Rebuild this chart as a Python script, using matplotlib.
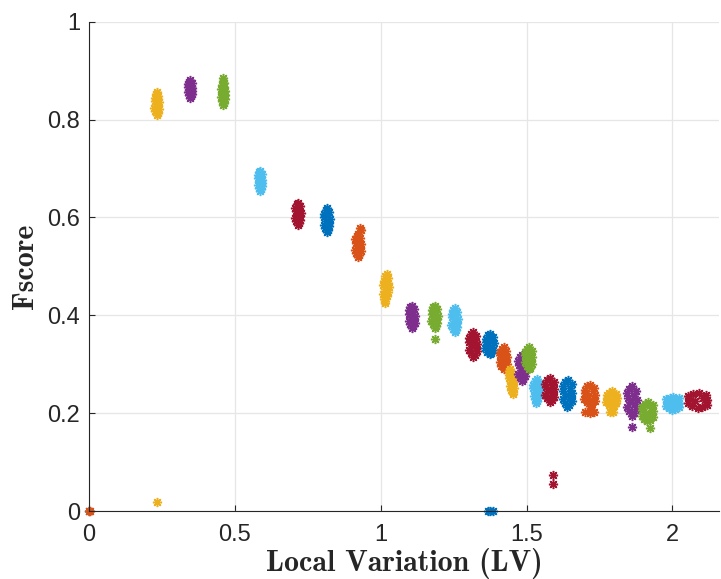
import os
import matplotlib
matplotlib.use("Agg")
import matplotlib.pyplot as plt
from matplotlib.font_manager import FontProperties

# MATLAB default colour order
colors = ["#0072BD", "#D95319", "#EDB120", "#7E2F8E", "#77AC30", "#4DBEEE", "#A2142F"]

# one list per run: local variation (x) and Fscore (y)
lv = [
    [0.0],
    [0.0, 0.002],
    [0.232, 0.235, 0.228, 0.239, 0.224, 0.238, 0.230, 0.240, 0.226, 0.236, 0.225, 0.238, 0.229, 0.233, 0.233],
    [0.346, 0.349, 0.342, 0.353, 0.338, 0.352, 0.344, 0.354, 0.340, 0.350, 0.339, 0.352, 0.343, 0.347],
    [0.459, 0.462, 0.455, 0.466, 0.451, 0.465, 0.457, 0.467, 0.453, 0.463, 0.456, 0.462, 0.458, 0.460],
    [0.586, 0.589, 0.582, 0.593, 0.578, 0.592, 0.584, 0.594, 0.580, 0.590, 0.579, 0.592, 0.583, 0.587],
    [0.716, 0.720, 0.711, 0.725, 0.706, 0.723, 0.713, 0.726, 0.708, 0.721, 0.707, 0.724, 0.712, 0.717],
    [0.815, 0.819, 0.810, 0.824, 0.805, 0.822, 0.812, 0.825, 0.807, 0.820, 0.806, 0.823, 0.811, 0.816],
    [0.922, 0.926, 0.917, 0.931, 0.912, 0.929, 0.919, 0.932, 0.914, 0.927, 0.913, 0.930, 0.918, 0.923, 0.928, 0.933],
    [1.013, 1.016, 1.010, 1.022, 1.008, 1.025, 1.015, 1.027, 1.009, 1.024, 1.011, 1.026, 1.016, 1.020],
    [1.107, 1.111, 1.101, 1.116, 1.096, 1.114, 1.104, 1.118, 1.098, 1.112, 1.097, 1.115, 1.102, 1.108],
    [1.185, 1.189, 1.179, 1.194, 1.174, 1.192, 1.182, 1.196, 1.176, 1.190, 1.175, 1.193, 1.180, 1.186, 1.186],
    [1.253, 1.257, 1.247, 1.262, 1.242, 1.260, 1.250, 1.264, 1.244, 1.258, 1.243, 1.261, 1.248, 1.254],
    [1.316, 1.322, 1.309, 1.329, 1.302, 1.326, 1.312, 1.330, 1.304, 1.323, 1.303, 1.328, 1.310, 1.318],
    [1.373, 1.379, 1.366, 1.386, 1.359, 1.383, 1.369, 1.387, 1.361, 1.380, 1.360, 1.385, 1.367, 1.375,
     1.368, 1.376, 1.384],
    [1.421, 1.426, 1.414, 1.433, 1.408, 1.430, 1.417, 1.434, 1.410, 1.427, 1.409, 1.431, 1.415, 1.422],
    [1.452, 1.455, 1.446, 1.458, 1.443, 1.455, 1.447, 1.456, 1.440, 1.450, 1.439, 1.448, 1.441, 1.444],
    [1.483, 1.488, 1.477, 1.494, 1.471, 1.492, 1.480, 1.495, 1.473, 1.489, 1.472, 1.493, 1.478, 1.484],
    [1.507, 1.512, 1.500, 1.519, 1.494, 1.516, 1.503, 1.520, 1.496, 1.513, 1.495, 1.517, 1.501, 1.508],
    [1.532, 1.535, 1.529, 1.540, 1.524, 1.544, 1.530, 1.546, 1.522, 1.541, 1.523, 1.545, 1.528, 1.536],
    [1.579, 1.586, 1.571, 1.594, 1.563, 1.591, 1.575, 1.595, 1.565, 1.588, 1.564, 1.593, 1.570, 1.581,
     1.590, 1.590],
    [1.640, 1.647, 1.632, 1.655, 1.624, 1.652, 1.636, 1.656, 1.626, 1.649, 1.625, 1.654, 1.631, 1.642],
    [1.716, 1.724, 1.706, 1.733, 1.698, 1.730, 1.712, 1.734, 1.700, 1.727, 1.699, 1.731, 1.708, 1.718,
     1.700, 1.716, 1.732, 1.722],
    [1.791, 1.799, 1.781, 1.808, 1.773, 1.805, 1.787, 1.809, 1.775, 1.802, 1.774, 1.806, 1.783, 1.793,
     1.786, 1.796],
    [1.860, 1.867, 1.851, 1.876, 1.844, 1.873, 1.856, 1.877, 1.846, 1.869, 1.845, 1.874, 1.852, 1.862,
     1.860],
    [1.914, 1.923, 1.903, 1.934, 1.894, 1.930, 1.909, 1.935, 1.896, 1.926, 1.895, 1.932, 1.905, 1.916,
     1.922],
    [2.000, 2.010, 1.988, 2.022, 1.978, 2.019, 1.995, 2.024, 1.981, 2.013, 1.979, 2.021, 1.990, 2.003],
    [2.086, 2.100, 2.068, 2.118, 2.053, 2.114, 2.079, 2.120, 2.057, 2.104, 2.055, 2.116, 2.070, 2.090],
]

fscore = [
    [0.0],
    [0.0, 0.001],
    [0.810, 0.814, 0.817, 0.821, 0.824, 0.828, 0.831, 0.835, 0.838, 0.842, 0.845, 0.849, 0.852, 0.856, 0.018],
    [0.845, 0.848, 0.850, 0.853, 0.856, 0.858, 0.861, 0.864, 0.866, 0.869, 0.872, 0.874, 0.877, 0.880],
    [0.830, 0.834, 0.838, 0.842, 0.846, 0.850, 0.854, 0.858, 0.862, 0.866, 0.870, 0.874, 0.879, 0.885],
    [0.655, 0.658, 0.661, 0.664, 0.667, 0.670, 0.673, 0.677, 0.680, 0.683, 0.686, 0.689, 0.692, 0.695],
    [0.585, 0.588, 0.592, 0.595, 0.599, 0.602, 0.606, 0.609, 0.613, 0.616, 0.620, 0.623, 0.627, 0.630],
    [0.570, 0.574, 0.578, 0.582, 0.585, 0.589, 0.593, 0.597, 0.601, 0.605, 0.608, 0.612, 0.616, 0.620],
    [0.520, 0.524, 0.527, 0.531, 0.534, 0.538, 0.541, 0.545, 0.548, 0.552, 0.555, 0.559, 0.562, 0.566, 0.578, 0.575],
    [0.425, 0.430, 0.434, 0.439, 0.443, 0.448, 0.453, 0.457, 0.462, 0.466, 0.471, 0.476, 0.480, 0.485],
    [0.375, 0.378, 0.382, 0.385, 0.389, 0.392, 0.396, 0.399, 0.403, 0.406, 0.410, 0.413, 0.417, 0.420],
    [0.375, 0.378, 0.382, 0.385, 0.389, 0.392, 0.396, 0.399, 0.403, 0.406, 0.410, 0.413, 0.417, 0.420, 0.351],
    [0.365, 0.369, 0.373, 0.377, 0.380, 0.384, 0.388, 0.392, 0.396, 0.400, 0.403, 0.407, 0.411, 0.415],
    [0.315, 0.319, 0.323, 0.327, 0.330, 0.334, 0.338, 0.342, 0.346, 0.350, 0.353, 0.357, 0.361, 0.365],
    [0.320, 0.323, 0.326, 0.330, 0.333, 0.336, 0.339, 0.343, 0.346, 0.349, 0.352, 0.356, 0.359, 0.362,
     0.0, 0.0, 0.0],
    [0.290, 0.293, 0.297, 0.300, 0.304, 0.307, 0.311, 0.314, 0.318, 0.321, 0.325, 0.328, 0.332, 0.335],
    [0.240, 0.244, 0.248, 0.252, 0.255, 0.259, 0.263, 0.267, 0.271, 0.275, 0.278, 0.282, 0.286, 0.290],
    [0.265, 0.269, 0.273, 0.277, 0.281, 0.285, 0.289, 0.294, 0.298, 0.302, 0.306, 0.310, 0.314, 0.318],
    [0.290, 0.293, 0.297, 0.300, 0.304, 0.307, 0.311, 0.314, 0.318, 0.321, 0.325, 0.328, 0.332, 0.335],
    [0.220, 0.224, 0.228, 0.232, 0.235, 0.239, 0.243, 0.247, 0.251, 0.255, 0.258, 0.262, 0.266, 0.270],
    [0.222, 0.226, 0.230, 0.234, 0.238, 0.241, 0.245, 0.249, 0.253, 0.257, 0.260, 0.264, 0.268, 0.272,
     0.055, 0.073],
    [0.212, 0.216, 0.221, 0.225, 0.229, 0.234, 0.238, 0.242, 0.246, 0.251, 0.255, 0.259, 0.264, 0.268],
    [0.215, 0.218, 0.222, 0.225, 0.228, 0.231, 0.235, 0.238, 0.241, 0.245, 0.248, 0.251, 0.255, 0.258,
     0.203, 0.200, 0.203, 0.206],
    [0.212, 0.215, 0.217, 0.220, 0.222, 0.225, 0.227, 0.230, 0.232, 0.235, 0.237, 0.240, 0.242, 0.245,
     0.203, 0.203],
    [0.195, 0.200, 0.204, 0.209, 0.213, 0.218, 0.223, 0.227, 0.232, 0.236, 0.241, 0.246, 0.250, 0.255,
     0.172],
    [0.183, 0.186, 0.189, 0.192, 0.195, 0.198, 0.201, 0.204, 0.207, 0.210, 0.213, 0.216, 0.219, 0.222,
     0.170],
    [0.206, 0.208, 0.210, 0.212, 0.215, 0.217, 0.219, 0.221, 0.223, 0.225, 0.228, 0.230, 0.232, 0.234],
    [0.210, 0.212, 0.215, 0.217, 0.220, 0.222, 0.225, 0.227, 0.230, 0.232, 0.235, 0.237, 0.240, 0.242],
]

xticks = [0, 0.5, 1, 1.5, 2]
yticks = [0, 0.2, 0.4, 0.6, 0.8, 1]

plt.rcParams["font.family"] = ["Liberation Sans", "DejaVu Sans"]
cm_file = os.path.join(matplotlib.get_data_path(), "fonts", "ttf", "cmb10.ttf")
label_font = FontProperties(fname=cm_file, size=21.5)

fig = plt.figure(figsize=(7.21, 5.79), dpi=100)
ax = fig.add_axes([0.1234, 0.1174, 0.874, 0.845])

for i, (x, y) in enumerate(zip(lv, fscore)):
    ax.plot(x, y, linestyle="none", marker=(8, 2, 0), markersize=6.6,
            markeredgewidth=1.1, color=colors[i % len(colors)], clip_on=False)

ax.set_xlim(0, 2.16)
ax.set_ylim(0, 1)
ax.set_xticks(xticks)
ax.set_xticklabels(["0", "0.5", "1", "1.5", "2"])
ax.set_yticks(yticks)
ax.set_yticklabels(["0", "0.2", "0.4", "0.6", "0.8", "1"])
ax.grid(True, color="#e6e6e6", linewidth=0.9)
ax.set_axisbelow(True)
for s in ["top", "right"]:
    ax.spines[s].set_visible(False)
for s in ["left", "bottom"]:
    ax.spines[s].set_color("#262626")
    ax.spines[s].set_linewidth(0.8)
ax.tick_params(direction="in", length=4, width=0.8, colors="#262626", labelsize=17)
ax.tick_params(axis="y", pad=6.5)
ax.tick_params(axis="x", pad=9)

ax.set_xlabel("Local Variation (LV)", fontproperties=label_font, color="#262626", labelpad=2)
ax.set_ylabel("Fscore", fontproperties=label_font, color="#262626", labelpad=6)

fig.savefig("out.png", dpi=100)
